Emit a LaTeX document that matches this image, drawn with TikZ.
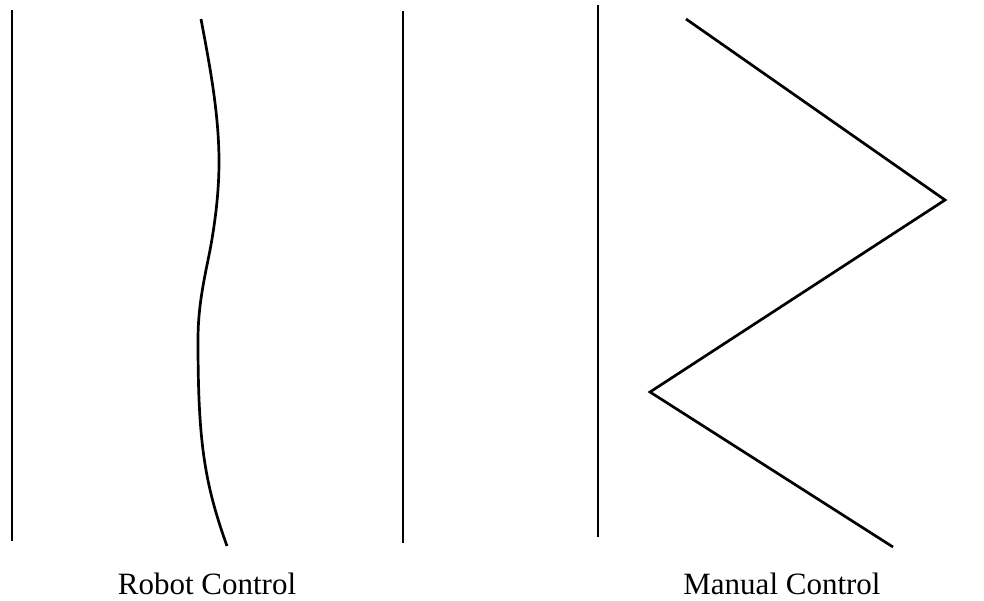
\documentclass[tikz,border=0pt]{standalone}
\usepackage{fontspec}
\setmainfont{Liberation Serif}
\begin{document}
\begin{tikzpicture}[x=1pt,y=-1pt,
  stroke/.style={line width=2.7pt,black},
  lbl/.style={font=\fontsize{31}{36}\selectfont,anchor=base,inner sep=0pt}]
\useasboundingbox (0,0) rectangle (984,600);
% vertical lines
\coordinate (l1t) at (12,10); \coordinate (l1b) at (12,541);
\coordinate (l2t) at (403,11); \coordinate (l2b) at (403,543);
\coordinate (l3t) at (598,5); \coordinate (l3b) at (598,537);
\draw[stroke] (l1t) -- (l1b);
\draw[stroke] (l2t) -- (l2b);
\draw[stroke] (l3t) -- (l3b);
% robot curve
\coordinate (c0) at (201,19);
\coordinate (c1) at (219,162);
\coordinate (c2) at (207,265);
\coordinate (c3) at (198,340);
\coordinate (c4) at (227,546);
\draw[stroke] (c0) .. controls (209,62) and (219,112) .. (c1)
  .. controls (219,202) and (212,242) .. (c2)
  .. controls (202,290) and (198,312) .. (c3)
  .. controls (198,440) and (204,482) .. (c4);
% zigzag
\coordinate (z1) at (686,19);
\coordinate (z2) at (945,200);
\coordinate (z3) at (650,392);
\coordinate (z4) at (893,547);
\draw[stroke,line join=miter] (z1) -- (z2) -- (z3) -- (z4);
% labels
\node[lbl] (robot) at (207,594) {Robot Control};
\node[lbl] (manual) at (782,594) {Manual Control};
\end{tikzpicture}
\end{document}
